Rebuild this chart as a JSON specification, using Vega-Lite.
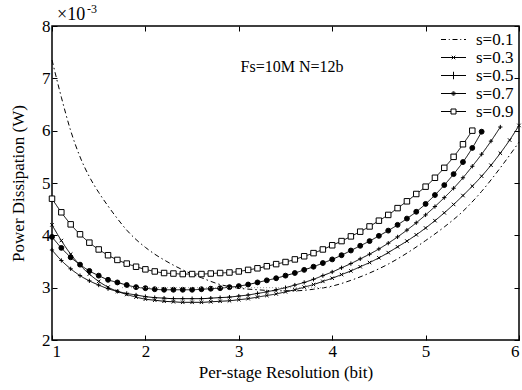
{
  "$schema": "https://vega.github.io/schema/vega-lite/v6.json",
  "width": 467,
  "height": 314,
  "autosize": {"type": "none"},
  "padding": {"left": 52, "top": 26, "right": 3, "bottom": 50},
  "config": {
    "view": {"stroke": "black", "strokeWidth": 1.5},
    "font": "Liberation Serif",
    "axis": {"grid": false, "domain": false, "tickColor": "black", "tickSize": -5, "labelFont": "Liberation Serif", "labelFontSize": 17, "labelColor": "black", "titleFont": "Liberation Serif", "titleFontSize": 17, "titleFontWeight": "normal", "titleColor": "black"}
  },
  "datasets": {
    "curves": [
      {"s":"s=0.1","x":1.0,"y":7.35},{"s":"s=0.1","x":1.1,"y":6.64},{"s":"s=0.1","x":1.2,"y":6.00},{"s":"s=0.1","x":1.3,"y":5.50},{"s":"s=0.1","x":1.4,"y":5.12},{"s":"s=0.1","x":1.5,"y":4.82},{"s":"s=0.1","x":1.6,"y":4.56},{"s":"s=0.1","x":1.7,"y":4.32},{"s":"s=0.1","x":1.8,"y":4.10},{"s":"s=0.1","x":1.9,"y":3.92},{"s":"s=0.1","x":2.0,"y":3.77},{"s":"s=0.1","x":2.1,"y":3.64},{"s":"s=0.1","x":2.2,"y":3.53},{"s":"s=0.1","x":2.3,"y":3.43},{"s":"s=0.1","x":2.4,"y":3.34},{"s":"s=0.1","x":2.5,"y":3.26},{"s":"s=0.1","x":2.6,"y":3.19},{"s":"s=0.1","x":2.7,"y":3.12},{"s":"s=0.1","x":2.8,"y":3.06},{"s":"s=0.1","x":2.9,"y":3.02},{"s":"s=0.1","x":3.0,"y":2.99},{"s":"s=0.1","x":3.2,"y":2.96},{"s":"s=0.1","x":3.4,"y":2.94},{"s":"s=0.1","x":3.6,"y":2.94},{"s":"s=0.1","x":3.8,"y":2.97},{"s":"s=0.1","x":4.0,"y":3.03},{"s":"s=0.1","x":4.2,"y":3.14},{"s":"s=0.1","x":4.4,"y":3.28},{"s":"s=0.1","x":4.6,"y":3.45},{"s":"s=0.1","x":4.8,"y":3.66},{"s":"s=0.1","x":5.0,"y":3.90},{"s":"s=0.1","x":5.2,"y":4.16},{"s":"s=0.1","x":5.4,"y":4.46},{"s":"s=0.1","x":5.6,"y":4.84},{"s":"s=0.1","x":5.8,"y":5.29},{"s":"s=0.1","x":6.0,"y":5.78},
      {"s":"s=0.3","x":1.0,"y":4.20},{"s":"s=0.3","x":1.1,"y":3.90},{"s":"s=0.3","x":1.2,"y":3.64},{"s":"s=0.3","x":1.3,"y":3.43},{"s":"s=0.3","x":1.4,"y":3.26},{"s":"s=0.3","x":1.5,"y":3.12},{"s":"s=0.3","x":1.6,"y":3.01},{"s":"s=0.3","x":1.7,"y":2.93},{"s":"s=0.3","x":1.8,"y":2.87},{"s":"s=0.3","x":1.9,"y":2.82},{"s":"s=0.3","x":2.0,"y":2.78},{"s":"s=0.3","x":2.1,"y":2.76},{"s":"s=0.3","x":2.2,"y":2.74},{"s":"s=0.3","x":2.3,"y":2.73},{"s":"s=0.3","x":2.4,"y":2.72},{"s":"s=0.3","x":2.5,"y":2.72},{"s":"s=0.3","x":2.6,"y":2.72},{"s":"s=0.3","x":2.7,"y":2.73},{"s":"s=0.3","x":2.8,"y":2.74},{"s":"s=0.3","x":2.9,"y":2.75},{"s":"s=0.3","x":3.0,"y":2.77},{"s":"s=0.3","x":3.1,"y":2.79},{"s":"s=0.3","x":3.2,"y":2.82},{"s":"s=0.3","x":3.3,"y":2.85},{"s":"s=0.3","x":3.4,"y":2.88},{"s":"s=0.3","x":3.5,"y":2.92},{"s":"s=0.3","x":3.6,"y":2.96},{"s":"s=0.3","x":3.7,"y":3.01},{"s":"s=0.3","x":3.8,"y":3.06},{"s":"s=0.3","x":3.9,"y":3.12},{"s":"s=0.3","x":4.0,"y":3.18},{"s":"s=0.3","x":4.1,"y":3.25},{"s":"s=0.3","x":4.2,"y":3.32},{"s":"s=0.3","x":4.3,"y":3.40},{"s":"s=0.3","x":4.4,"y":3.48},{"s":"s=0.3","x":4.5,"y":3.57},{"s":"s=0.3","x":4.6,"y":3.67},{"s":"s=0.3","x":4.7,"y":3.78},{"s":"s=0.3","x":4.8,"y":3.89},{"s":"s=0.3","x":4.9,"y":4.01},{"s":"s=0.3","x":5.0,"y":4.14},{"s":"s=0.3","x":5.1,"y":4.28},{"s":"s=0.3","x":5.2,"y":4.43},{"s":"s=0.3","x":5.3,"y":4.59},{"s":"s=0.3","x":5.4,"y":4.76},{"s":"s=0.3","x":5.5,"y":4.94},{"s":"s=0.3","x":5.6,"y":5.13},{"s":"s=0.3","x":5.7,"y":5.34},{"s":"s=0.3","x":5.8,"y":5.57},{"s":"s=0.3","x":5.9,"y":5.82},{"s":"s=0.3","x":6.0,"y":6.10},
      {"s":"s=0.5","x":1.0,"y":3.72},{"s":"s=0.5","x":1.1,"y":3.52},{"s":"s=0.5","x":1.2,"y":3.36},{"s":"s=0.5","x":1.3,"y":3.23},{"s":"s=0.5","x":1.4,"y":3.13},{"s":"s=0.5","x":1.5,"y":3.05},{"s":"s=0.5","x":1.6,"y":2.98},{"s":"s=0.5","x":1.7,"y":2.93},{"s":"s=0.5","x":1.8,"y":2.89},{"s":"s=0.5","x":1.9,"y":2.86},{"s":"s=0.5","x":2.0,"y":2.83},{"s":"s=0.5","x":2.1,"y":2.81},{"s":"s=0.5","x":2.2,"y":2.80},{"s":"s=0.5","x":2.3,"y":2.79},{"s":"s=0.5","x":2.4,"y":2.79},{"s":"s=0.5","x":2.5,"y":2.79},{"s":"s=0.5","x":2.6,"y":2.79},{"s":"s=0.5","x":2.7,"y":2.80},{"s":"s=0.5","x":2.8,"y":2.81},{"s":"s=0.5","x":2.9,"y":2.82},{"s":"s=0.5","x":3.0,"y":2.84},{"s":"s=0.5","x":3.1,"y":2.86},{"s":"s=0.5","x":3.2,"y":2.89},{"s":"s=0.5","x":3.3,"y":2.92},{"s":"s=0.5","x":3.4,"y":2.96},{"s":"s=0.5","x":3.5,"y":3.00},{"s":"s=0.5","x":3.6,"y":3.05},{"s":"s=0.5","x":3.7,"y":3.10},{"s":"s=0.5","x":3.8,"y":3.16},{"s":"s=0.5","x":3.9,"y":3.23},{"s":"s=0.5","x":4.0,"y":3.30},{"s":"s=0.5","x":4.1,"y":3.38},{"s":"s=0.5","x":4.2,"y":3.46},{"s":"s=0.5","x":4.3,"y":3.55},{"s":"s=0.5","x":4.4,"y":3.64},{"s":"s=0.5","x":4.5,"y":3.74},{"s":"s=0.5","x":4.6,"y":3.85},{"s":"s=0.5","x":4.7,"y":3.97},{"s":"s=0.5","x":4.8,"y":4.10},{"s":"s=0.5","x":4.9,"y":4.24},{"s":"s=0.5","x":5.0,"y":4.39},{"s":"s=0.5","x":5.1,"y":4.55},{"s":"s=0.5","x":5.2,"y":4.72},{"s":"s=0.5","x":5.3,"y":4.90},{"s":"s=0.5","x":5.4,"y":5.10},{"s":"s=0.5","x":5.5,"y":5.32},{"s":"s=0.5","x":5.6,"y":5.55},{"s":"s=0.5","x":5.7,"y":5.80},{"s":"s=0.5","x":5.8,"y":6.07},
      {"s":"s=0.7","x":1.0,"y":3.97},{"s":"s=0.7","x":1.1,"y":3.76},{"s":"s=0.7","x":1.2,"y":3.58},{"s":"s=0.7","x":1.3,"y":3.44},{"s":"s=0.7","x":1.4,"y":3.32},{"s":"s=0.7","x":1.5,"y":3.23},{"s":"s=0.7","x":1.6,"y":3.15},{"s":"s=0.7","x":1.7,"y":3.10},{"s":"s=0.7","x":1.8,"y":3.05},{"s":"s=0.7","x":1.9,"y":3.01},{"s":"s=0.7","x":2.0,"y":2.99},{"s":"s=0.7","x":2.1,"y":2.97},{"s":"s=0.7","x":2.2,"y":2.96},{"s":"s=0.7","x":2.3,"y":2.96},{"s":"s=0.7","x":2.4,"y":2.96},{"s":"s=0.7","x":2.5,"y":2.96},{"s":"s=0.7","x":2.6,"y":2.97},{"s":"s=0.7","x":2.7,"y":2.98},{"s":"s=0.7","x":2.8,"y":2.99},{"s":"s=0.7","x":2.9,"y":3.01},{"s":"s=0.7","x":3.0,"y":3.03},{"s":"s=0.7","x":3.1,"y":3.06},{"s":"s=0.7","x":3.2,"y":3.10},{"s":"s=0.7","x":3.3,"y":3.14},{"s":"s=0.7","x":3.4,"y":3.18},{"s":"s=0.7","x":3.5,"y":3.23},{"s":"s=0.7","x":3.6,"y":3.28},{"s":"s=0.7","x":3.7,"y":3.34},{"s":"s=0.7","x":3.8,"y":3.40},{"s":"s=0.7","x":3.9,"y":3.47},{"s":"s=0.7","x":4.0,"y":3.54},{"s":"s=0.7","x":4.1,"y":3.62},{"s":"s=0.7","x":4.2,"y":3.71},{"s":"s=0.7","x":4.3,"y":3.80},{"s":"s=0.7","x":4.4,"y":3.89},{"s":"s=0.7","x":4.5,"y":3.99},{"s":"s=0.7","x":4.6,"y":4.09},{"s":"s=0.7","x":4.7,"y":4.20},{"s":"s=0.7","x":4.8,"y":4.32},{"s":"s=0.7","x":4.9,"y":4.45},{"s":"s=0.7","x":5.0,"y":4.60},{"s":"s=0.7","x":5.1,"y":4.77},{"s":"s=0.7","x":5.2,"y":4.96},{"s":"s=0.7","x":5.3,"y":5.17},{"s":"s=0.7","x":5.4,"y":5.40},{"s":"s=0.7","x":5.5,"y":5.67},{"s":"s=0.7","x":5.6,"y":5.98},
      {"s":"s=0.9","x":1.0,"y":4.70},{"s":"s=0.9","x":1.1,"y":4.44},{"s":"s=0.9","x":1.2,"y":4.21},{"s":"s=0.9","x":1.3,"y":4.02},{"s":"s=0.9","x":1.4,"y":3.86},{"s":"s=0.9","x":1.5,"y":3.73},{"s":"s=0.9","x":1.6,"y":3.62},{"s":"s=0.9","x":1.7,"y":3.53},{"s":"s=0.9","x":1.8,"y":3.46},{"s":"s=0.9","x":1.9,"y":3.40},{"s":"s=0.9","x":2.0,"y":3.35},{"s":"s=0.9","x":2.1,"y":3.31},{"s":"s=0.9","x":2.2,"y":3.28},{"s":"s=0.9","x":2.3,"y":3.27},{"s":"s=0.9","x":2.4,"y":3.26},{"s":"s=0.9","x":2.5,"y":3.26},{"s":"s=0.9","x":2.6,"y":3.26},{"s":"s=0.9","x":2.7,"y":3.27},{"s":"s=0.9","x":2.8,"y":3.28},{"s":"s=0.9","x":2.9,"y":3.29},{"s":"s=0.9","x":3.0,"y":3.31},{"s":"s=0.9","x":3.1,"y":3.34},{"s":"s=0.9","x":3.2,"y":3.37},{"s":"s=0.9","x":3.3,"y":3.41},{"s":"s=0.9","x":3.4,"y":3.45},{"s":"s=0.9","x":3.5,"y":3.49},{"s":"s=0.9","x":3.6,"y":3.54},{"s":"s=0.9","x":3.7,"y":3.60},{"s":"s=0.9","x":3.8,"y":3.66},{"s":"s=0.9","x":3.9,"y":3.73},{"s":"s=0.9","x":4.0,"y":3.81},{"s":"s=0.9","x":4.1,"y":3.89},{"s":"s=0.9","x":4.2,"y":3.98},{"s":"s=0.9","x":4.3,"y":4.07},{"s":"s=0.9","x":4.4,"y":4.17},{"s":"s=0.9","x":4.5,"y":4.28},{"s":"s=0.9","x":4.6,"y":4.39},{"s":"s=0.9","x":4.7,"y":4.52},{"s":"s=0.9","x":4.8,"y":4.65},{"s":"s=0.9","x":4.9,"y":4.79},{"s":"s=0.9","x":5.0,"y":4.93},{"s":"s=0.9","x":5.1,"y":5.10},{"s":"s=0.9","x":5.2,"y":5.29},{"s":"s=0.9","x":5.3,"y":5.50},{"s":"s=0.9","x":5.4,"y":5.74},{"s":"s=0.9","x":5.5,"y":6.00}
    ],
    "single": [{}]
  },
  "data": {"name": "curves"},
  "layer": [
    {
      "mark": {"type": "line", "interpolate": "monotone", "color": "black", "strokeWidth": 1},
      "encoding": {
        "x": {"field": "x", "type": "quantitative", "scale": {"domain": [1, 6], "nice": false, "zero": false}, "axis": {"orient": "bottom", "values": [1, 2, 3, 4, 5, 6], "title": "Per-stage Resolution (bit)", "labelPadding": 8, "titlePadding": 5}},
        "y": {"field": "y", "type": "quantitative", "scale": {"domain": [2, 8], "nice": false, "zero": false}, "axis": {"orient": "left", "values": [2, 3, 4, 5, 6, 7, 8], "title": "Power Dissipation (W)", "labelPadding": 7, "titlePadding": 14}},
        "strokeDash": {"field": "s", "type": "nominal", "scale": {"domain": ["s=0.1", "s=0.3", "s=0.5", "s=0.7", "s=0.9"], "range": [[5, 3, 1.5, 3], [1, 0], [1, 0], [1, 0], [1, 0]]}, "legend": null}
      }
    },
    {
      "transform": [{"filter": "datum.s !== 's=0.1'"}],
      "mark": {"type": "point", "filled": true, "stroke": "black", "strokeWidth": 1, "opacity": 1},
      "encoding": {
        "x": {"field": "x", "type": "quantitative", "axis": null},
        "y": {"field": "y", "type": "quantitative", "axis": null},
        "shape": {"field": "s", "type": "nominal", "scale": {"domain": ["s=0.3", "s=0.5", "s=0.7", "s=0.9"], "range": ["M-1,-1L1,1M-1,1L1,-1", "M-1,0H1M0,-1V1", "circle", "square"]}, "legend": null},
        "fill": {"field": "s", "type": "nominal", "scale": {"domain": ["s=0.3", "s=0.5", "s=0.7", "s=0.9"], "range": ["black", "black", "black", "white"]}, "legend": null},
        "size": {"field": "s", "type": "ordinal", "scale": {"domain": ["s=0.3", "s=0.5", "s=0.7", "s=0.9"], "range": [12, 30, 14, 28]}, "legend": null}
      }
    },
    {
      "mark": {"type": "point", "opacity": 0, "filled": false},
      "encoding": {
        "x": {"field": "x", "type": "quantitative", "axis": null},
        "y": {"field": "y", "type": "quantitative", "axis": null},
        "shape": {"field": "s", "type": "nominal", "scale": {"domain": ["s=0.1", "s=0.3", "s=0.5", "s=0.7", "s=0.9"], "range": [
          "M-2.5,0H-1.5M-0.95,0H-0.75M-0.2,0H0.8M1.35,0H1.55M2.1,0H2.5",
          "M-2.5,0H2.5M-0.35,-0.35L0.35,0.35M-0.35,0.35L0.35,-0.35",
          "M-2.5,0H2.5M0,-0.75V0.75",
          "M-2.5,0H2.5M0.35,0A0.35,0.35,0,1,1,-0.35,0A0.35,0.35,0,1,1,0.35,0M0.17,0A0.17,0.17,0,1,1,-0.17,0A0.17,0.17,0,1,1,0.17,0",
          "M-2.5,0H-0.5M0.5,0H2.5M-0.5,-0.5H0.5V0.5H-0.5Z"
        ]}, "legend": {"orient": "top-right", "title": null, "symbolSize": 100, "symbolStrokeColor": "black", "symbolStrokeWidth": 1, "symbolOpacity": 1, "symbolFillColor": "transparent", "labelFont": "Liberation Serif", "labelFontSize": 17, "labelColor": "black", "labelOffset": 14, "rowPadding": 0, "offset": 5, "padding": 0}}
      }
    },
    {
      "data": {"name": "single"},
      "mark": {"type": "rule", "color": "#9a9a9a", "strokeDash": [1, 2], "strokeWidth": 1},
      "encoding": {
        "x": {"datum": 1.75, "type": "quantitative", "axis": null},
        "x2": {"datum": 4.0},
        "y": {"datum": 3, "type": "quantitative", "axis": null}
      }
    },
    {
      "data": {"name": "single"},
      "mark": {"type": "text", "font": "Liberation Serif", "fontSize": 16, "align": "center", "baseline": "middle", "color": "black"},
      "encoding": {
        "x": {"datum": 3.57, "type": "quantitative", "axis": null},
        "y": {"datum": 7.22, "type": "quantitative", "axis": null},
        "text": {"value": "Fs=10M N=12b"}
      }
    },
    {
      "data": {"name": "single"},
      "mark": {"type": "text", "font": "Liberation Serif", "fontSize": 18, "align": "left", "baseline": "alphabetic", "dx": 5, "dy": -6, "color": "black"},
      "encoding": {
        "x": {"datum": 1, "type": "quantitative", "axis": null},
        "y": {"datum": 8, "type": "quantitative", "axis": null},
        "text": {"value": "×10"}
      }
    },
    {
      "data": {"name": "single"},
      "mark": {"type": "text", "font": "Liberation Serif", "fontSize": 12, "align": "left", "baseline": "alphabetic", "dx": 35, "dy": -13, "color": "black"},
      "encoding": {
        "x": {"datum": 1, "type": "quantitative", "axis": null},
        "y": {"datum": 8, "type": "quantitative", "axis": null},
        "text": {"value": "-3"}
      }
    },
    {
      "mark": {"type": "line", "opacity": 0},
      "encoding": {
        "x": {"field": "x", "type": "quantitative", "axis": {"orient": "top", "values": [1, 2, 3, 4, 5, 6], "labels": false, "title": null}},
        "y": {"field": "y", "type": "quantitative", "axis": {"orient": "right", "values": [2, 3, 4, 5, 6, 7, 8], "labels": false, "title": null}},
        "detail": {"field": "s", "type": "nominal"}
      }
    }
  ],
  "resolve": {"scale": {"shape": "independent"}, "axis": {"x": "independent", "y": "independent"}}
}
